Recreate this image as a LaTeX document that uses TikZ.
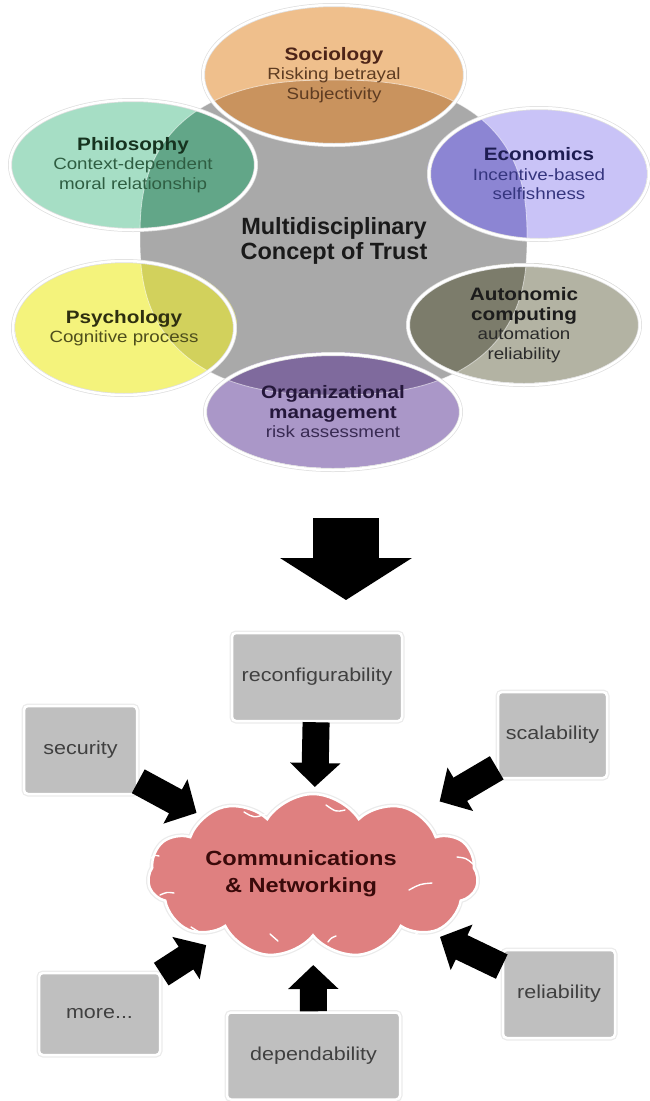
\documentclass[tikz,border=0pt]{standalone}
\usepackage{fontspec}
\setmainfont{Liberation Sans}
\newfontfamily\wide{Liberation Sans}[FakeStretch=1.15]
\usetikzlibrary{shapes.geometric,shapes.symbols,arrows.meta,calc}

% palette
\definecolor{coreF}{HTML}{A9A9A9}
\definecolor{coreT}{HTML}{1A1A1A}
\definecolor{socL}{HTML}{EFBF8C}\definecolor{socD}{HTML}{C9935E}
\definecolor{socH}{HTML}{4D2418}\definecolor{socT}{HTML}{5E3C22}
\definecolor{phiL}{HTML}{A6DEC5}\definecolor{phiD}{HTML}{62A688}
\definecolor{phiH}{HTML}{16331F}\definecolor{phiT}{HTML}{2F5E42}
\definecolor{ecoL}{HTML}{C9C3F7}\definecolor{ecoD}{HTML}{8C85D3}
\definecolor{ecoH}{HTML}{1E1D52}\definecolor{ecoT}{HTML}{35357E}
\definecolor{psyL}{HTML}{F4F37C}\definecolor{psyD}{HTML}{D2D15C}
\definecolor{psyH}{HTML}{2E2E10}\definecolor{psyT}{HTML}{4E4E1C}
\definecolor{autL}{HTML}{B3B3A3}\definecolor{autD}{HTML}{7C7C6B}
\definecolor{autH}{HTML}{1C1C1C}\definecolor{autT}{HTML}{2A2A2A}
\definecolor{orgL}{HTML}{AA97C8}\definecolor{orgD}{HTML}{7F6A9D}
\definecolor{orgH}{HTML}{24173A}\definecolor{orgT}{HTML}{382A52}
\definecolor{boxF}{HTML}{BFBFBF}\definecolor{boxT}{HTML}{404040}
\definecolor{cloudF}{HTML}{DF8080}\definecolor{cloudT}{HTML}{3A0A0A}

% rounded central field (superellipse)
\newcommand\coreplot{plot[domain=0.5:360.5,samples=181,variable=\t]
  ({333.5+193.5*cos(\t)*abs(cos(\t))^(-0.2)},{237.5+157.5*sin(\t)*abs(sin(\t))^(-0.2)}) -- cycle}

% petal fill: light part, darker where it lies over the central field
\newcommand\petalfill[6]{%
  \fill[#5] (#1,#2) ellipse [x radius=#3, y radius=#4];
  \begin{scope}
    \path[clip] \coreplot;
    \fill[#6] (#1,#2) ellipse [x radius=#3, y radius=#4];
  \end{scope}}

\newcommand\ptitle[2]{{\color{#1}\bfseries\fontsize{18}{20}\selectfont #2}}

\tikzset{
  petal/.style={ellipse, draw=white, line width=2.5pt, inner sep=0pt, align=center,
    font=\wide\fontsize{16.3}{19.5}\selectfont,
    preaction={draw=black!12, line width=4pt}},
  box/.style={rectangle, rounded corners=4pt, fill=boxF, draw=white, line width=2.5pt,
    inner sep=0pt, text=boxT, font=\wide\fontsize{18.7}{22}\selectfont,
    preaction={draw=black!8, line width=5pt}},
  cloudnode/.style={cloud, cloud puffs=11, cloud puff arc=115, aspect=2,
    fill=cloudF, draw=white, line width=2.5pt, inner sep=0pt,
    preaction={draw=black!8, line width=5pt}},
  puffline/.style={draw=white, line width=1.4pt, line cap=round},
  blk/.style={draw=black, line width=27pt, -{Triangle[length=24pt,width=49pt]}},
  bigarrow/.style={draw=black, line width=66pt, -{Triangle[length=42pt,width=130pt]}}
}

\begin{document}
\begin{tikzpicture}[x=1pt,y=-1pt]
\useasboundingbox (0,0) rectangle (650,1101);

% ---------- concept of trust ----------
\fill[coreF] \coreplot;

\petalfill{334}{75}{131}{70}{socL}{socD}
\petalfill{133}{165}{123}{65}{phiL}{phiD}
\petalfill{537}{174}{110}{66}{ecoL}{ecoD}
\petalfill{126}{327}{111}{67}{psyL}{psyD}
\petalfill{524}{323}{116}{60}{autL}{autD}
\petalfill{333}{410}{128}{58}{orgL}{orgD}

\draw[white, opacity=.55, line width=.8pt] \coreplot;

\node[petal, minimum width=262, minimum height=140, text=socT] (soc) at (334,75)
  {\ptitle{socH}{Sociology}\\Risking betrayal\\Subjectivity};
\node[petal, minimum width=246, minimum height=130, text=phiT] (phi) at (133,165)
  {\ptitle{phiH}{Philosophy}\\Context-dependent\\moral relationship};
\node[petal, minimum width=220, minimum height=132, text=ecoT] (eco) at (539,174)
  {\ptitle{ecoH}{Economics}\\Incentive-based\\selfishness};
\node[petal, minimum width=222, minimum height=134, text=psyT] (psy) at (124,328)
  {\ptitle{psyH}{Psychology}\\Cognitive process};
\node[petal, minimum width=232, minimum height=120, text=autT] (aut) at (524,325)
  {\ptitle{autH}{Autonomic}\\\ptitle{autH}{computing}\\automation\\reliability};
\node[petal, minimum width=256, minimum height=116, text=orgT] (org) at (333,412)
  {\ptitle{orgH}{Organizational}\\\ptitle{orgH}{management}\\risk assessment};

\node[font=\bfseries\fontsize{23.5}{25}\selectfont, text=coreT, align=center] (core)
  at (334,241) {Multidisciplinary\\Concept of Trust};

% ---------- transition ----------
\coordinate (bigtail) at (346,518);
\coordinate (bighead) at (346,600);
\draw[bigarrow] (bigtail) -- (bighead);

% ---------- communications & networking ----------
\node[cloudnode, minimum width=330, minimum height=164] (cloud) at (313,876) {};
% seams between the puffs
\draw[puffline] (244,812) .. controls (254,818) .. (266,814);
\draw[puffline] (326,805) .. controls (336,812) .. (345,810);
\draw[puffline] (446,820) .. controls (456,824) .. (460,832);
\draw[puffline] (457,857) .. controls (466,858) .. (473,864);
\draw[puffline] (409,890) .. controls (420,884) .. (432,883);
\draw[puffline] (411,940) .. controls (414,935) .. (419,932);
\draw[puffline] (328,942) .. controls (331,938) .. (336,936);
\draw[puffline] (270,934) .. controls (274,938) .. (278,941);
\draw[puffline] (191,927) .. controls (195,930) .. (199,932);
\draw[puffline] (160,895) .. controls (167,892) .. (174,893);
\draw[puffline] (151,858) .. controls (155,855) .. (159,856);

\node[font=\wide\bfseries\fontsize{20.5}{27}\selectfont, text=cloudT, align=center]
  (cloudtext) at (301,874) {Communications\\\& Networking};

\node[box, minimum width=170, minimum height=88] (reconf) at (317,677) {reconfigurability};
\node[box, minimum width=113, minimum height=88] (sec) at (80.5,750) {security};
\node[box, minimum width=109, minimum height=86] (scal) at (552.5,735) {scalability};
\node[box, minimum width=121, minimum height=82] (more) at (99.5,1014) {more...};
\node[box, minimum width=173, minimum height=87] (dep) at (313.5,1056) {dependability};
\node[box, minimum width=112, minimum height=88] (rel) at (559,994) {reliability};

\draw[blk] (reconf) -- ($(reconf)!110pt!(cloud)$);
\draw[blk] (sec) -- ($(sec)!132pt!(cloud)$);
\draw[blk] (scal) -- ($(scal)!131pt!(cloud)$);
\draw[blk] (more) -- ($(more)!127pt!(cloud)$);
\draw[blk] (dep) -- ($(dep)!91pt!(cloud)$);
\draw[blk] (rel) -- ($(rel)!132pt!(cloud)$);
\end{tikzpicture}
\end{document}
